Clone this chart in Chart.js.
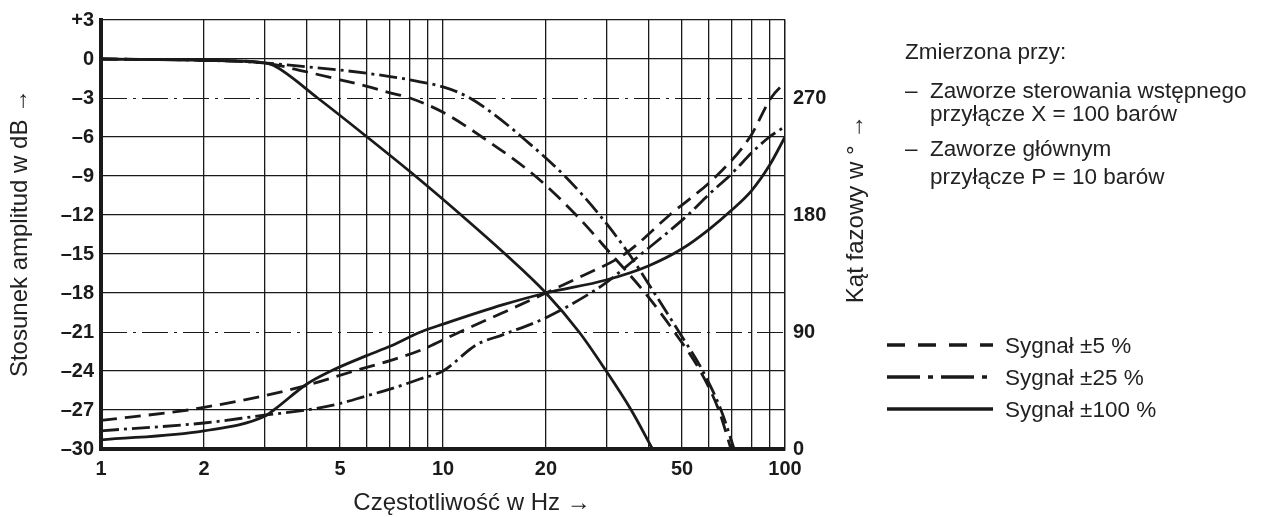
<!DOCTYPE html>
<html>
<head>
<meta charset="utf-8">
<script src="https://cdn.jsdelivr.net/npm/chart.js@4.4.1/dist/chart.umd.min.js"></script>
<style>
    html, body {margin: 0; padding: 0; background: #fff;}
</style>
</head>
<body>
<canvas id="bode" width="1264" height="517"></canvas>
<script>
//grid + tick data
const freqGrid = [1, 2, 3, 4, 5, 6, 7, 8, 9, 10, 20, 30, 40, 50, 60, 70, 80, 90, 100];
const freqLabels = [1, 2, 5, 10, 20, 50, 100];
const phaseTicks = [0, 90, 180, 270];
const refLevels = [-3, -21];

//amplitude (dB)
const ampFreq100 = [1, 2, 3, 3.2, 4.3, 6, 8.3, 11.3, 15.2, 20, 25, 30, 35.5, 41];
const amp100 = [0, -0.1, -0.3, -0.5, -3, -6, -9, -12, -15, -18, -21, -24, -27, -30];
const ampFreq5 = [1, 2, 3, 4, 5, 6, 7, 8, 10, 13, 18.6, 24.5, 31, 39, 47.5, 56.5, 64, 69.5];
const amp5 = [0, -0.1, -0.3, -1.0, -1.6, -2.1, -2.6, -3.0, -4.1, -6, -9, -12, -15, -18, -21, -24, -27, -30];
const ampFreq25 = [1, 2, 3, 4, 5, 6, 7, 8, 10, 11.8, 14, 17, 22.7, 28.7, 35, 41.5, 49, 57.5, 65, 71];
const amp25 = [0, -0.1, -0.3, -0.6, -0.85, -1.1, -1.35, -1.6, -2.15, -2.9, -4.2, -6, -9, -12, -15, -18, -21, -24, -27, -30];

//phase (deg)
const phFreq100 = [1, 2, 3, 3.2, 4, 4.7, 6, 7, 8.6, 10, 15, 20, 30, 40, 50, 60, 70, 80, 90, 100];
const ph100 = [7, 14, 25, 30, 50, 60, 72, 79, 90, 96, 111, 120, 130, 141, 154, 169, 184, 199, 218, 240];
const phFreq5 = [1, 1.8, 2, 3, 4, 5.5, 7, 8.6, 11.2, 15, 20, 25, 34, 46, 63, 79, 91, 100];
const ph5 = [22, 30, 32, 41, 49, 60, 68, 76, 90, 105, 120, 132, 150, 180, 210, 240, 270, 282];
const phFreq25 = [1, 2, 3, 4, 5, 6, 7, 8.6, 10, 12.5, 15, 20, 27, 30, 38, 52, 60, 70, 80, 90, 100];
const ph25 = [14, 20, 26, 30, 35, 41, 46, 54, 60, 80, 88, 101, 120, 128, 150, 180, 196, 212, 228, 240, 248];

const ink = '#1a1a1a';
const dashed = [16, 8];
const dashDot = [18, 5, 3, 5];
const tickFont = {family: "'Liberation Sans Narrow', 'Liberation Sans', Arial, sans-serif", size: 20, weight: 'bold'};
const textFont = "22.5px 'Liberation Sans', Arial, sans-serif";
const titleFont = "24px 'Liberation Sans', Arial, sans-serif";

function pts(xs, ys) {
    return xs.map((x, i) => ({x: x, y: ys[i]}));
}

function curve(xs, ys, axis, dash) {
    return {
        data: pts(xs, ys),
        yAxisID: axis,
        borderColor: ink,
        borderWidth: 2.8,
        borderDash: dash,
        pointRadius: 0,
        fill: false,
        cubicInterpolationMode: 'monotone'
    };
}

// dash-dot reference lines at -3 dB / -21 dB
const refLinesPlugin = {
    id: 'refLines',
    beforeDatasetsDraw(chart) {
        const {ctx, chartArea, scales} = chart;
        ctx.save();
        ctx.strokeStyle = ink;
        ctx.lineWidth = 1.2;
        ctx.setLineDash([26, 6, 3, 6]);
        refLevels.forEach(v => {
            const y = Math.round(scales.y.getPixelForValue(v)) + 0.5;
            ctx.beginPath();
            ctx.moveTo(chartArea.left, y);
            ctx.lineTo(chartArea.right, y);
            ctx.stroke();
        });
        ctx.restore();
    }
};

// axis titles, measurement note, legend
const notesPlugin = {
    id: 'notes',
    afterDraw(chart) {
        const ctx = chart.ctx;
        ctx.save();
        ctx.fillStyle = '#222';

        ctx.font = titleFont;
        ctx.textAlign = 'center';
        ctx.textBaseline = 'middle';
        ctx.fillText('Częstotliwość w Hz →', 472, 503);
        [['Stosunek amplitud w dB →', 20, 233], ['Kąt fazowy w ° →', 856, 209]].forEach(t => {
            ctx.save();
            ctx.translate(t[1], t[2]);
            ctx.rotate(-Math.PI / 2);
            ctx.fillText(t[0], 0, 0);
            ctx.restore();
        });

        ctx.font = textFont;
        ctx.textAlign = 'left';
        ctx.textBaseline = 'alphabetic';
        ctx.fillText('Zmierzona przy:', 905, 59);
        ctx.fillText('–', 905, 98);
        ctx.fillText('Zaworze sterowania wstępnego', 930, 98);
        ctx.fillText('przyłącze X = 100 barów', 930, 121);
        ctx.fillText('–', 905, 156);
        ctx.fillText('Zaworze głównym', 930, 156);
        ctx.fillText('przyłącze P = 10 barów', 930, 184);

        const items = [
            {text: 'Sygnał ±5 %', dash: [18, 13], y: 345},
            {text: 'Sygnał ±25 %', dash: [33, 8, 5, 8], y: 377},
            {text: 'Sygnał ±100 %', dash: [], y: 409}
        ];
        items.forEach(it => {
            ctx.strokeStyle = ink;
            ctx.lineWidth = 3.5;
            ctx.setLineDash(it.dash);
            ctx.beginPath();
            ctx.moveTo(887, it.y);
            ctx.lineTo(993, it.y);
            ctx.stroke();
            ctx.setLineDash([]);
            ctx.fillText(it.text, 1005, it.y + 8);
        });
        ctx.restore();
    }
};

const ctx = document.getElementById('bode');
new Chart(ctx, {
    type: 'line',
    data: {
        datasets: [
            curve(ampFreq5, amp5, 'y', dashed),
            curve(ampFreq25, amp25, 'y', dashDot),
            curve(ampFreq100, amp100, 'y', []),
            curve(phFreq5, ph5, 'y2', dashed),
            curve(phFreq25, ph25, 'y2', dashDot),
            curve(phFreq100, ph100, 'y2', [])
        ]
    },
    options: {
        responsive: false,
        animation: false,
        devicePixelRatio: 1,
        layout: {padding: {top: 18, right: 399, left: 0, bottom: 0}},
        plugins: {
            legend: {display: false},
            tooltip: {enabled: false}
        },
        scales: {
            x: {
                type: 'logarithmic',
                min: 1,
                max: 100,
                afterBuildTicks: scale => {
                    scale.ticks = freqGrid.map(v => ({value: v}));
                },
                afterFit: scale => {
                    scale.height = 68;
                },
                ticks: {
                    autoSkip: false,
                    maxRotation: 0,
                    padding: 8,
                    color: ink,
                    font: tickFont,
                    callback: v => freqLabels.includes(v) ? String(v) : ''
                },
                grid: {color: ink, lineWidth: 1.3, drawTicks: false},
                border: {color: ink, width: 4}
            },
            y: {
                min: -30,
                max: 3,
                afterFit: scale => {
                    scale.width = 101;
                },
                ticks: {
                    stepSize: 3,
                    padding: 7,
                    color: ink,
                    font: tickFont,
                    callback: v => v > 0 ? '+' + v : (v < 0 ? '–' + Math.abs(v) : '0')
                },
                grid: {
                    color: c => refLevels.includes(c.tick.value) ? 'rgba(0,0,0,0)' : ink,
                    lineWidth: 1.3,
                    drawTicks: false
                },
                border: {color: ink, width: 4}
            },
            y2: {
                position: 'right',
                min: 0,
                max: 330,
                afterBuildTicks: scale => {
                    scale.ticks = phaseTicks.map(v => ({value: v}));
                },
                afterFit: scale => {
                    scale.width = 80;
                },
                ticks: {
                    padding: 8,
                    color: ink,
                    font: tickFont
                },
                grid: {display: false, drawTicks: false},
                border: {color: ink, width: 1.3}
            }
        }
    },
    plugins: [refLinesPlugin, notesPlugin]
});
</script>
</body>
</html>
